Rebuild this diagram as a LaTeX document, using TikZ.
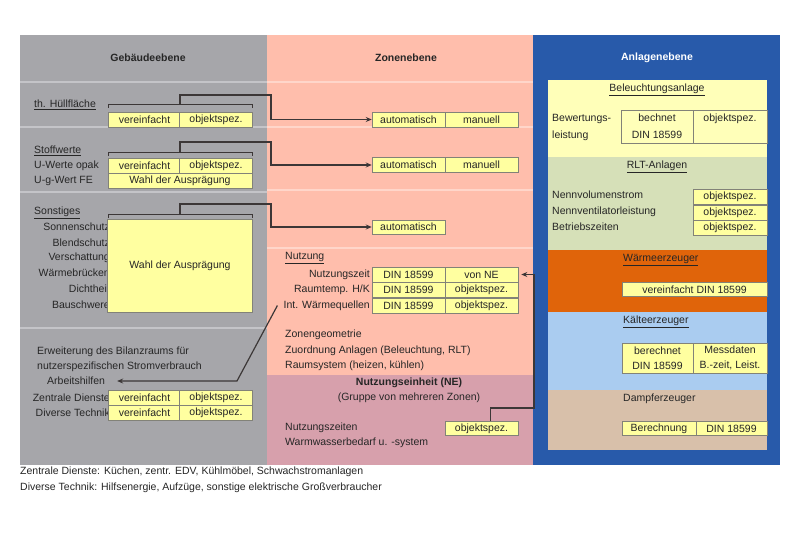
\documentclass[tikz,border=0pt]{standalone}
\usepackage{fontspec}
\setmainfont{Liberation Sans}
\usetikzlibrary{arrows.meta}
\definecolor{colgray}{RGB}{166,166,170}
\definecolor{colsalmon}{RGB}{255,190,172}
\definecolor{colne}{RGB}{215,160,172}
\definecolor{colblue}{RGB}{40,90,170}
\definecolor{colyel}{RGB}{255,255,185}
\definecolor{colgreen}{RGB}{214,224,184}
\definecolor{colorange}{RGB}{224,100,10}
\definecolor{collblue}{RGB}{170,204,240}
\definecolor{coltan}{RGB}{216,192,170}
\definecolor{boxy}{RGB}{255,255,160}
\definecolor{cellline}{RGB}{130,130,120}
\definecolor{conncol}{RGB}{60,55,55}
\definecolor{sepgray}{RGB}{196,196,200}
\definecolor{sepsal}{RGB}{255,214,202}
\begin{document}
\begin{tikzpicture}[x=1pt,y=-1pt,
  every node/.style={font=\fontsize{10.5}{15}\selectfont, inner sep=0pt, text=black!85},
  lbl/.style={anchor=west},
  rlbl/.style={anchor=east},
  ttl/.style={font=\fontsize{10.5}{15}\selectfont\bfseries},
  cell/.style={draw=cellline, fill=boxy, line width=0.5pt, minimum height=15pt, minimum width=73pt, align=center},
  conn/.style={draw=conncol, line width=1.2pt, -{Stealth[length=6pt,width=5pt]}},
  brk/.style={draw=conncol, line width=0.8pt},
  sepg/.style={draw=sepgray, line width=2pt},
  seps/.style={draw=sepsal, line width=2pt}
]
\useasboundingbox (0,0) rectangle (800,534);
\fill[white] (0,0) rectangle (800,534);
% columns
\fill[colgray] (20,35) rectangle (267,465);
\fill[colsalmon] (267,35) rectangle (533,375);
\fill[colne] (267,375) rectangle (533,465);
\fill[colblue] (533,35) rectangle (780,465);
% separators
\foreach \yy in {82,127,192,328} \draw[sepg] (20,\yy) -- (267,\yy);
\foreach \yy in {82,127,190,248} \draw[seps] (267,\yy) -- (533,\yy);
% blue panels
\fill[colyel] (548,80) rectangle (767,157);
\fill[colgreen] (548,157) rectangle (767,250);
\fill[colorange] (548,250) rectangle (767,312);
\fill[collblue] (548,312) rectangle (767,390);
\fill[coltan] (548,390) rectangle (767,450);

% titles
\node[ttl] (tG) at (148,58) {Gebäudeebene};
\node[ttl] (tZ) at (406,58) {Zonenebene};
\node[ttl, text=white] (tA) at (657,58) {Anlagenebene};

% ---------- Gebaeudeebene ----------
\node[lbl] (lH) at (34,105) {\underline{th. Hüllfläche}};
\node[cell] (h1a) at (144.5,119.5) {vereinfacht};
\node[cell] (h1b) at (216,119.5) {objektspez.};
\draw[brk] (108,108) -- (108,104) -- (252,104) -- (252,108);
\coordinate (b1) at (180,104);

\node[lbl] (lS) at (34,151) {\underline{Stoffwerte}};
\node[lbl] (lU) at (34,166) {U-Werte opak};
\node[lbl] (lUg) at (34,181) {U-g-Wert FE};
\node[cell] (s1a) at (144.5,166) {vereinfacht};
\node[cell] (s1b) at (216,166) {objektspez.};
\node[cell, minimum width=144pt] (s2) at (180,181) {Wahl der Ausprägung};
\draw[brk] (108,156) -- (108,152) -- (252,152) -- (252,156);
\coordinate (b2) at (180,152);

\node[lbl] (lSo) at (34,213) {\underline{Sonstiges}};
\node[rlbl] (lSo1) at (110,227) {Sonnenschutz};
\node[rlbl] (lSo2) at (110,243) {Blendschutz};
\node[rlbl] (lSo3) at (110,258) {Verschattung};
\node[rlbl] (lSo4) at (110,273) {Wärmebrücken};
\node[rlbl] (lSo5) at (110,289) {Dichtheit};
\node[rlbl] (lSo6) at (110,305) {Bauschwere};
\node[cell, minimum width=145pt, minimum height=93pt] (so) at (180,265.5) {Wahl der Ausprägung};
\draw[brk] (108,218) -- (108,214) -- (252,214) -- (252,218);
\coordinate (b3) at (180,214);

\node[lbl] (lE1) at (37,352) {Erweiterung des Bilanzraums für};
\node[lbl] (lE2) at (37,367) {nutzerspezifischen Stromverbrauch};
\node[lbl] (arb) at (47,381) {Arbeitshilfen};
\node[rlbl] (lZD) at (110,397.5) {Zentrale Dienste};
\node[rlbl] (lDT) at (110,412.5) {Diverse Technik};
\node[cell] (zda) at (144.5,397.5) {vereinfacht};
\node[cell] (zdb) at (216,397.5) {objektspez.};
\node[cell] (dta) at (144.5,412.5) {vereinfacht};
\node[cell] (dtb) at (216,412.5) {objektspez.};

% ---------- Zonenebene ----------
\node[cell] (z1a) at (408.5,119.5) {automatisch};
\node[cell] (z1b) at (481.5,119.5) {manuell};
\node[cell] (z2a) at (408.5,165) {automatisch};
\node[cell] (z2b) at (481.5,165) {manuell};
\node[cell, minimum height=14pt] (z3) at (408.5,227) {automatisch};

\node[lbl] (lN) at (285,258) {\underline{Nutzung}};
\node[rlbl] (lNz) at (370,274.5) {Nutzungszeit};
\node[rlbl] (lRt) at (370,290) {Raumtemp. H/K};
\node[rlbl] (iwq) at (370,305.5) {Int. Wärmequellen};
\node[cell] (t1a) at (408.5,274.5) {DIN 18599};
\node[cell] (t1b) at (481.5,274.5) {von NE};
\node[cell] (t2a) at (408.5,290) {DIN 18599};
\node[cell] (t2b) at (481.5,290) {objektspez.};
\node[cell] (t3a) at (408.5,305.5) {DIN 18599};
\node[cell] (t3b) at (481.5,305.5) {objektspez.};

\node[lbl] (lZg) at (285,335) {Zonengeometrie};
\node[lbl] (lZa) at (285,350.5) {Zuordnung Anlagen (Beleuchtung, RLT)};
\node[lbl] (lRs) at (285,366) {Raumsystem (heizen, kühlen)};

\node[ttl] (tNE) at (409,383) {Nutzungseinheit (NE)};
\node (tNE2) at (409,398) {(Gruppe von mehreren Zonen)};
\node[lbl] (lNzs) at (285,428) {Nutzungszeiten};
\node[lbl] (lWw) at (285,443) {Warmwasserbedarf u. -system};
\node[cell, minimum height=14pt] (neb) at (481.5,428.5) {objektspez.};

% ---------- Anlagenebene ----------
\node (tBel) at (657,90) {\underline{Beleuchtungsanlage}};
\node[lbl, align=left, font=\fontsize{10.5}{17}\selectfont] (lBew) at (552,127.5) {Bewertungs-\\leistung};
\node[cell, fill=none, minimum width=72pt, minimum height=33pt, font=\fontsize{10.5}{17}\selectfont] (bl1) at (657,126.5) {bechnet\\DIN 18599};
\node[cell, fill=none, minimum width=74pt, minimum height=33pt, font=\fontsize{10.5}{17}\selectfont] (bl2) at (730,126.5) {objektspez.\\~};

\node (tRLT) at (657,167) {\underline{RLT-Anlagen}};
\node[lbl] (lR1) at (552,195) {Nennvolumenstrom};
\node[lbl] (lR2) at (552,212) {Nennventilatorleistung};
\node[lbl] (lR3) at (552,227) {Betriebszeiten};
\node[cell, minimum width=74pt] (r1) at (730,197) {objektspez.};
\node[cell, minimum width=74pt] (r2) at (730,212.5) {objektspez.};
\node[cell, minimum width=74pt] (r3) at (730,227.5) {objektspez.};

\node[lbl] (tW) at (623,260) {\underline{Wärmeerzeuger}};
\node[cell, minimum width=145pt, minimum height=14pt] (w1) at (694.5,289.5) {vereinfacht DIN 18599};

\node[lbl] (tK) at (623,322) {\underline{Kälteerzeuger}};
\node[cell, minimum width=71pt, minimum height=30pt] (kc1) at (657.5,358) {berechnet\\DIN 18599};
\node[cell, minimum width=74pt, minimum height=30pt] (kc2) at (730,358) {Messdaten\\B.-zeit, Leist.};

\node[lbl] (tD) at (623,399) {Dampferzeuger};
\node[cell, minimum width=74pt, minimum height=14pt] (d1) at (659,428.5) {Berechnung};
\node[cell, minimum width=71pt, minimum height=14pt] (d2) at (731.5,428.5) {DIN 18599};

% ---------- connectors ----------
\coordinate (c1) at (271,95);
\coordinate (c2) at (271,142);
\coordinate (c3) at (271,204);
\draw[conn] (b1) |- (c1) |- (z1a.west);
\draw[conn] (b2) |- (c2) |- (z2a.west);
\draw[conn] (b3) |- (c3) |- (z3.west);
\coordinate (c4) at (237,381);
\draw[conn] ([xshift=-6pt]iwq.west) -- (c4) -- ([xshift=12pt]arb.east);
\coordinate (c5) at (534,408);
\draw[conn, shorten >=3pt] ([xshift=9pt]neb.north) |- (c5) |- (t1b.east);

% footnotes
\node[lbl] (f1) at (20,472) {Zentrale Dienste: Küchen, zentr. EDV, Kühlmöbel, Schwachstromanlagen};
\node[lbl] (f2) at (20,487.5) {Diverse Technik: Hilfsenergie, Aufzüge, sonstige elektrische Großverbraucher};
\end{tikzpicture}
\end{document}
